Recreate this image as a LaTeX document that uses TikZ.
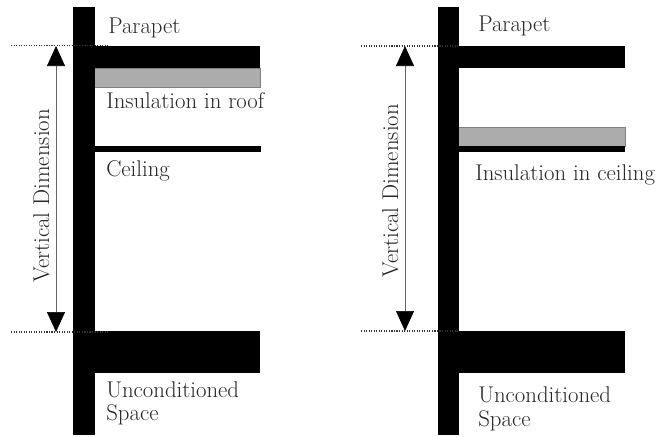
\documentclass[tikz,border=0pt]{standalone}
\usepackage{tikz}
\usetikzlibrary{arrows.meta}

\begin{document}
\begin{tikzpicture}[x=0.025cm,y=-0.025cm,font=\fontsize{16.2}{19}\selectfont,
  lbl/.style={anchor=base west,inner sep=0pt,text=black!85},
  dimlbl/.style={anchor=base,rotate=90,inner sep=0pt,text=black!85},
  solid part/.style={fill=black,draw=none},
  insul/.style={fill=gray!65,draw=black!50,line width=0.4pt},
  dim/.style={{Triangle[length=0.5cm,width=0.45cm,black]}-{Triangle[length=0.5cm,width=0.45cm,black]},black!60,line width=0.5pt},
  guide/.style={densely dotted,black!80,line width=0.8pt}]
\useasboundingbox (0,0) rectangle (660,436);

% left detail
\draw[insul] (90,68) rectangle (260,87);
\fill[solid part] (73,7) rectangle (95,435);
\fill[solid part] (95,45.5) rectangle (260,68);
\fill[solid part] (95,146) rectangle (261,152);
\fill[solid part] (95,331) rectangle (260,373);

\coordinate (guideTopLa) at (11,45.5);
\coordinate (guideTopLb) at (109,45.5);
\coordinate (guideBotLa) at (11,332);
\coordinate (guideBotLb) at (109,332);
\coordinate (dimTopL) at (56,46);
\coordinate (dimBotL) at (56,332);
\draw[guide] (guideTopLa) -- (guideTopLb);
\draw[guide] (guideBotLa) -- (guideBotLb);
\draw[dim] (dimTopL) -- (dimBotL);

\node[dimlbl] (dimLblL) at (49,196) {Vertical Dimension};
\node[lbl] (parapetL) at (108,33) {Parapet};
\node[lbl] (insulL) at (106,108) {Insulation in roof};
\node[lbl] (ceilingL) at (106,176) {Ceiling};
\node[lbl] (uncondL) at (106,397) {Unconditioned};
\node[lbl] (spaceL) at (106,420) {Space};

% right detail
\draw[insul] (450,127.5) rectangle (625,146);
\fill[solid part] (438,7) rectangle (459,435);
\fill[solid part] (459,46) rectangle (625,68);
\fill[solid part] (459,146) rectangle (625,152);
\fill[solid part] (459,331) rectangle (625,373);

\coordinate (guideTopRa) at (361,46);
\coordinate (guideTopRb) at (459,46);
\coordinate (guideBotRa) at (361,331);
\coordinate (guideBotRb) at (459,331);
\coordinate (dimTopR) at (405,46);
\coordinate (dimBotR) at (405,331);
\draw[guide] (guideTopRa) -- (guideTopRb);
\draw[guide] (guideBotRa) -- (guideBotRb);
\draw[dim] (dimTopR) -- (dimBotR);

\node[dimlbl] (dimLblR) at (398,191) {Vertical Dimension};
\node[lbl] (parapetR) at (478,31) {Parapet};
\node[lbl] (insulR) at (475,180) {Insulation in ceiling};
\node[lbl] (uncondR) at (478,402) {Unconditioned};
\node[lbl] (spaceR) at (478,426) {Space};
\end{tikzpicture}
\end{document}
